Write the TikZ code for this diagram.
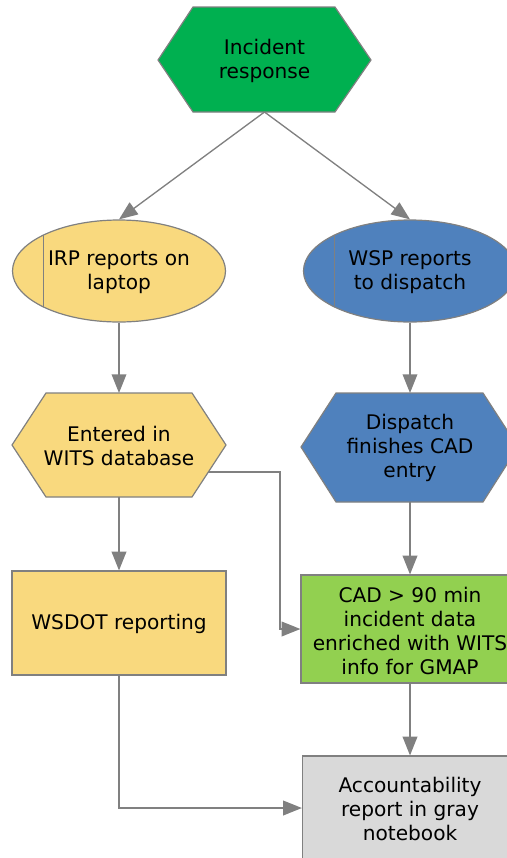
\documentclass[tikz,border=0pt]{standalone}
\usepackage{fontspec}
\setmainfont{DejaVu Sans}
\usetikzlibrary{arrows.meta,shapes.geometric}
\definecolor{dkgreen}{HTML}{00B050}
\definecolor{ylw}{HTML}{F9D97E}
\definecolor{blu}{HTML}{4F81BD}
\definecolor{ltgreen}{HTML}{92D050}
\definecolor{lgray}{HTML}{D9D9D9}
\definecolor{edge}{HTML}{808080}
\begin{document}
\begin{tikzpicture}[x=0.75pt,y=-0.75pt,
 shapeline/.style={draw=edge,line width=0.9pt},
 lbl/.style={align=center,font=\fontsize{15.1}{17.8}\selectfont,inner sep=0pt,text=black},
 oval/.style={ellipse,shapeline,minimum width=159.75pt,minimum height=76.5pt,inner sep=0pt},
 box/.style={rectangle,shapeline,inner sep=0pt},
 conn/.style={draw=edge,line width=1pt,-{Triangle[length=14pt,width=11pt]}},
]
\useasboundingbox (0,0) rectangle (507,858);
\clip (0,0) rectangle (507,858);
% Incident response hexagon
\path[shapeline,fill=dkgreen] (158,60) -- (193,7) -- (335,7) -- (371,60) -- (335,112) -- (193,112) -- cycle;
\node[lbl] (inc) at (264.5,61) {Incident\\response};
\coordinate (incb) at (264.5,112);
% ellipses
\node[oval,fill=ylw] (irp) at (119,271) {};
\draw[shapeline] (43.5,235) -- (43.5,307);
\node[lbl] (irpt) at (119,272) {IRP reports on\\laptop};
\node[oval,fill=blu] (wsp) at (410,271) {};
\draw[shapeline] (334.5,235) -- (334.5,307);
\node[lbl] (wspt) at (410,272) {WSP reports\\to dispatch};
% Entered hexagon
\path[shapeline,fill=ylw] (12,445) -- (46,393) -- (192,393) -- (226,445) -- (192,497) -- (46,497) -- cycle;
\node[lbl] (ent) at (119,446) {Entered in\\WITS database};
\coordinate (entt) at (119,393);
\coordinate (entb) at (119,497);
\coordinate (entr) at (208,472);
% Dispatch hexagon
\path[shapeline,fill=blu] (301,447) -- (336,393) -- (483,393) -- (518,447) -- (483,502) -- (336,502) -- cycle;
\node[lbl] (dis) at (410,448) {Dispatch\\finishes CAD\\entry};
\coordinate (dist) at (410,393);
\coordinate (disb) at (410,502);
% rectangles
\node[box,fill=ylw,minimum width=160.5pt,minimum height=78pt] (wsdot) at (119,623) {};
\node[lbl] (wsdott) at (119,624) {WSDOT reporting};
\node[box,fill=ltgreen,minimum width=163.5pt,minimum height=81pt] (cad) at (410,629) {};
\node[lbl] (cadt) at (410,631) {CAD > 90 min\\incident data\\enriched with WITS\\info for GMAP};
\node[box,fill=lgray,minimum width=161.25pt,minimum height=78pt] (acc) at (410,808) {};
\node[lbl] (acct) at (410,809) {Accountability\\report in gray\\notebook};
% connectors
\draw[conn] (incb) -- (irp.north);
\draw[conn] (incb) -- (wsp.north);
\draw[conn] (irp.south) -- (entt);
\draw[conn] (wsp.south) -- (dist);
\draw[conn] (entb) -- (wsdot.north);
\draw[conn] (disb) -- (cad.north);
\draw[conn] (entr) -- (280,472) |- (cad.west);
\draw[conn] (cad.south) -- (acc.north);
\draw[conn] (wsdot.south) |- (acc.west);
\end{tikzpicture}
\end{document}
